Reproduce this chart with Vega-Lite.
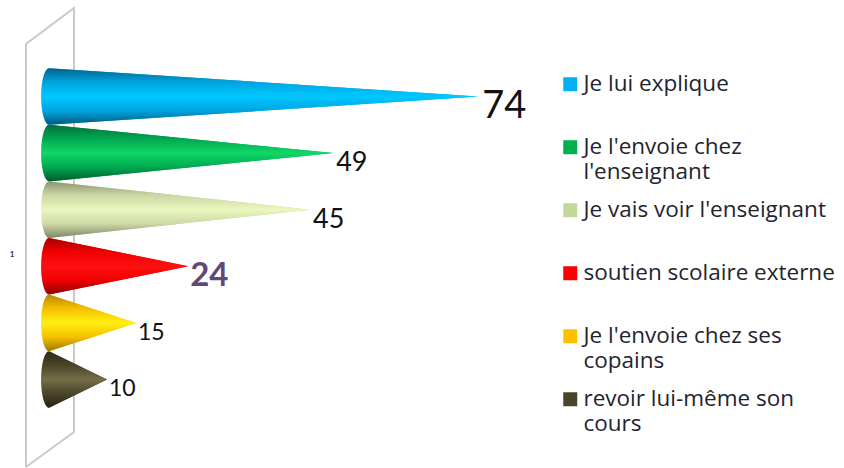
{"$schema":"https://vega.github.io/schema/vega-lite/v6.json","width":844,"height":468,"padding":0,"autosize":"none","background":"white","view":{"stroke":null},
"data":{"values":[{"reponse":"Je lui explique","valeur":74},{"reponse":"Je l'envoie chez l'enseignant","valeur":49},{"reponse":"Je vais voir l'enseignant","valeur":45},{"reponse":"soutien scolaire externe","valeur":24},{"reponse":"Je l'envoie chez ses copains","valeur":15},{"reponse":"revoir lui-même son cours","valeur":10}]},
"transform":[{"window":[{"op":"row_number","as":"rang"}]},{"calculate":"0","as":"base"},{"fold":["base","valeur"],"as":["bout","x"]},{"calculate":"datum.bout=='base'?datum.rang-0.5:datum.rang","as":"haut"},{"calculate":"datum.bout=='base'?datum.rang+0.5:datum.rang","as":"bas"}],
"encoding":{"x":{"field":"x","type":"quantitative","scale":{"domain":[-8.45,137.07],"nice":false,"zero":false},"axis":null},"y":{"field":"rang","type":"quantitative","scale":{"domain":[-0.705,7.564],"nice":false,"zero":false,"reverse":true},"axis":null}},
"layer":[
{"data":{"values":[{"o":1,"px":-3.97,"py":7.546},{"o":2,"px":-3.97,"py":0.072},{"o":3,"px":4.31,"py":-0.564},{"o":4,"px":4.31,"py":6.927},{"o":5,"px":-3.97,"py":7.546}]},"transform":[],"mark":{"type":"line","stroke":"#c9c9c9","strokeWidth":2},"encoding":{"x":{"field":"px","type":"quantitative"},"y":{"field":"py","type":"quantitative"},"order":{"field":"o","type":"ordinal"}}},
{"data":{"values":[{"c":"1","px":-6.38,"py":3.8}]},"transform":[],"mark":{"type":"text","font":"Lato","fontSize":8,"fontWeight":"bold","color":"#1f3864"},"encoding":{"x":{"field":"px","type":"quantitative"},"y":{"field":"py","type":"quantitative"},"text":{"field":"c"}}},
{"mark":{"type":"area","orient":"vertical"},"encoding":{"y":{"field":"haut","type":"quantitative","stack":null},"y2":{"field":"bas"},"color":{"field":"reponse","type":"nominal","scale":{"domain":["Je lui explique","Je l'envoie chez l'enseignant","Je vais voir l'enseignant","soutien scolaire externe","Je l'envoie chez ses copains","revoir lui-même son cours"],"range":["#00B0F0","#00B050","#C3D69B","#FF0000","#FFC000","#4A452A"]},"legend":{"title":null,"orient":"none","legendX":559,"legendY":73,"padding":0,"columns":1,"gridAlign":"all","symbolType":"square","symbolSize":196,"symbolStrokeWidth":0,"labelFont":"Open Sans","labelFontSize":22.5,"labelColor":"#1f2430","labelLimit":300,"labelOffset":2,"rowPadding":15,"labelExpr":"{\"Je l'envoie chez l'enseignant\":[\"Je l'envoie chez\",\"l'enseignant\"],\"Je l'envoie chez ses copains\":[\"Je l'envoie chez ses\",\"copains\"],\"revoir lui-même son cours\":[\"revoir lui-même son\",\"cours\"]}[datum.label]||datum.label","encoding":{"labels":{"update":{"baseline":{"value":"top"},"dy":{"value":-14}}}}}}}},
{"transform":[{"filter":"datum.reponse=='Je lui explique'"}],"mark":{"type":"area","orient":"vertical","color":{"gradient":"linear","x1":0,"y1":0,"x2":0,"y2":1,"stops":[{"offset":0,"color":"#00628a"},{"offset":0.25,"color":"#00a5e0"},{"offset":0.5,"color":"#00c8ff"},{"offset":0.75,"color":"#00a5e0"},{"offset":1,"color":"#00587c"}]}},"encoding":{"y":{"field":"haut","type":"quantitative","stack":null},"y2":{"field":"bas"}}},
{"transform":[{"filter":"datum.reponse=='Je l\\'envoie chez l\\'enseignant'"}],"mark":{"type":"area","orient":"vertical","color":{"gradient":"linear","x1":0,"y1":0,"x2":0,"y2":1,"stops":[{"offset":0,"color":"#00703a"},{"offset":0.25,"color":"#00a850"},{"offset":0.5,"color":"#10d868"},{"offset":0.75,"color":"#00a850"},{"offset":1,"color":"#005c2c"}]}},"encoding":{"y":{"field":"haut","type":"quantitative","stack":null},"y2":{"field":"bas"}}},
{"transform":[{"filter":"datum.reponse=='Je vais voir l\\'enseignant'"}],"mark":{"type":"area","orient":"vertical","color":{"gradient":"linear","x1":0,"y1":0,"x2":0,"y2":1,"stops":[{"offset":0,"color":"#8a9470"},{"offset":0.25,"color":"#ccd8a6"},{"offset":0.5,"color":"#eaf7be"},{"offset":0.75,"color":"#ccd8a6"},{"offset":1,"color":"#7c8662"}]}},"encoding":{"y":{"field":"haut","type":"quantitative","stack":null},"y2":{"field":"bas"}}},
{"transform":[{"filter":"datum.reponse=='soutien scolaire externe'"}],"mark":{"type":"area","orient":"vertical","color":{"gradient":"linear","x1":0,"y1":0,"x2":0,"y2":1,"stops":[{"offset":0,"color":"#a80000"},{"offset":0.25,"color":"#f00000"},{"offset":0.5,"color":"#ff1010"},{"offset":0.75,"color":"#f00000"},{"offset":1,"color":"#8c0000"}]}},"encoding":{"y":{"field":"haut","type":"quantitative","stack":null},"y2":{"field":"bas"}}},
{"transform":[{"filter":"datum.reponse=='Je l\\'envoie chez ses copains'"}],"mark":{"type":"area","orient":"vertical","color":{"gradient":"linear","x1":0,"y1":0,"x2":0,"y2":1,"stops":[{"offset":0,"color":"#b88a00"},{"offset":0.25,"color":"#f5c000"},{"offset":0.5,"color":"#fff010"},{"offset":0.75,"color":"#f5c000"},{"offset":1,"color":"#a07800"}]}},"encoding":{"y":{"field":"haut","type":"quantitative","stack":null},"y2":{"field":"bas"}}},
{"transform":[{"filter":"datum.reponse=='revoir lui-même son cours'"}],"mark":{"type":"area","orient":"vertical","color":{"gradient":"linear","x1":0,"y1":0,"x2":0,"y2":1,"stops":[{"offset":0,"color":"#2c2918"},{"offset":0.25,"color":"#4a452a"},{"offset":0.5,"color":"#736d48"},{"offset":0.75,"color":"#4a452a"},{"offset":1,"color":"#25220f"}]}},"encoding":{"y":{"field":"haut","type":"quantitative","stack":null},"y2":{"field":"bas"}}},
{"transform":[{"filter":"datum.bout=='base'&&datum.reponse=='Je lui explique'"}],"mark":{"type":"point","filled":true,"size":3204,"shape":"M0,-1A0.28,1 0 0 0 0,1Z","color":{"gradient":"linear","x1":0,"y1":0,"x2":0,"y2":1,"stops":[{"offset":0,"color":"#00628a"},{"offset":0.25,"color":"#00a5e0"},{"offset":0.5,"color":"#00c8ff"},{"offset":0.75,"color":"#00a5e0"},{"offset":1,"color":"#00587c"}]},"opacity":1}},
{"transform":[{"filter":"datum.bout=='base'&&datum.reponse=='Je l\\'envoie chez l\\'enseignant'"}],"mark":{"type":"point","filled":true,"size":3204,"shape":"M0,-1A0.28,1 0 0 0 0,1Z","color":{"gradient":"linear","x1":0,"y1":0,"x2":0,"y2":1,"stops":[{"offset":0,"color":"#00703a"},{"offset":0.25,"color":"#00a850"},{"offset":0.5,"color":"#10d868"},{"offset":0.75,"color":"#00a850"},{"offset":1,"color":"#005c2c"}]},"opacity":1}},
{"transform":[{"filter":"datum.bout=='base'&&datum.reponse=='Je vais voir l\\'enseignant'"}],"mark":{"type":"point","filled":true,"size":3204,"shape":"M0,-1A0.28,1 0 0 0 0,1Z","color":{"gradient":"linear","x1":0,"y1":0,"x2":0,"y2":1,"stops":[{"offset":0,"color":"#8a9470"},{"offset":0.25,"color":"#ccd8a6"},{"offset":0.5,"color":"#eaf7be"},{"offset":0.75,"color":"#ccd8a6"},{"offset":1,"color":"#7c8662"}]},"opacity":1}},
{"transform":[{"filter":"datum.bout=='base'&&datum.reponse=='soutien scolaire externe'"}],"mark":{"type":"point","filled":true,"size":3204,"shape":"M0,-1A0.28,1 0 0 0 0,1Z","color":{"gradient":"linear","x1":0,"y1":0,"x2":0,"y2":1,"stops":[{"offset":0,"color":"#a80000"},{"offset":0.25,"color":"#f00000"},{"offset":0.5,"color":"#ff1010"},{"offset":0.75,"color":"#f00000"},{"offset":1,"color":"#8c0000"}]},"opacity":1}},
{"transform":[{"filter":"datum.bout=='base'&&datum.reponse=='Je l\\'envoie chez ses copains'"}],"mark":{"type":"point","filled":true,"size":3204,"shape":"M0,-1A0.28,1 0 0 0 0,1Z","color":{"gradient":"linear","x1":0,"y1":0,"x2":0,"y2":1,"stops":[{"offset":0,"color":"#b88a00"},{"offset":0.25,"color":"#f5c000"},{"offset":0.5,"color":"#fff010"},{"offset":0.75,"color":"#f5c000"},{"offset":1,"color":"#a07800"}]},"opacity":1}},
{"transform":[{"filter":"datum.bout=='base'&&datum.reponse=='revoir lui-même son cours'"}],"mark":{"type":"point","filled":true,"size":3204,"shape":"M0,-1A0.28,1 0 0 0 0,1Z","color":{"gradient":"linear","x1":0,"y1":0,"x2":0,"y2":1,"stops":[{"offset":0,"color":"#2c2918"},{"offset":0.25,"color":"#4a452a"},{"offset":0.5,"color":"#736d48"},{"offset":0.75,"color":"#4a452a"},{"offset":1,"color":"#25220f"}]},"opacity":1}},
{"transform":[{"filter":"datum.bout=='valeur'&&datum.x==74"}],"mark":{"type":"text","font":"Lato","fontSize":38,"align":"left","baseline":"middle","dx":4,"dy":11,"color":"#111111"},"encoding":{"text":{"field":"x","type":"quantitative"}}},
{"transform":[{"filter":"datum.bout=='valeur'&&(datum.x==49||datum.x==45)"}],"mark":{"type":"text","font":"Lato","fontSize":27,"align":"left","baseline":"middle","dx":3,"dy":10,"color":"#111111"},"encoding":{"text":{"field":"x","type":"quantitative"}}},
{"transform":[{"filter":"datum.bout=='valeur'&&datum.x==24"}],"mark":{"type":"text","font":"Lato","fontSize":33,"fontWeight":"bold","align":"left","baseline":"middle","dx":2,"dy":10,"color":"#5f497a"},"encoding":{"text":{"field":"x","type":"quantitative"}}},
{"transform":[{"filter":"datum.bout=='valeur'&&(datum.x==15||datum.x==10)"}],"mark":{"type":"text","font":"Lato","fontSize":23,"align":"left","baseline":"middle","dx":2,"dy":10,"color":"#111111"},"encoding":{"text":{"field":"x","type":"quantitative"}}}
]}
